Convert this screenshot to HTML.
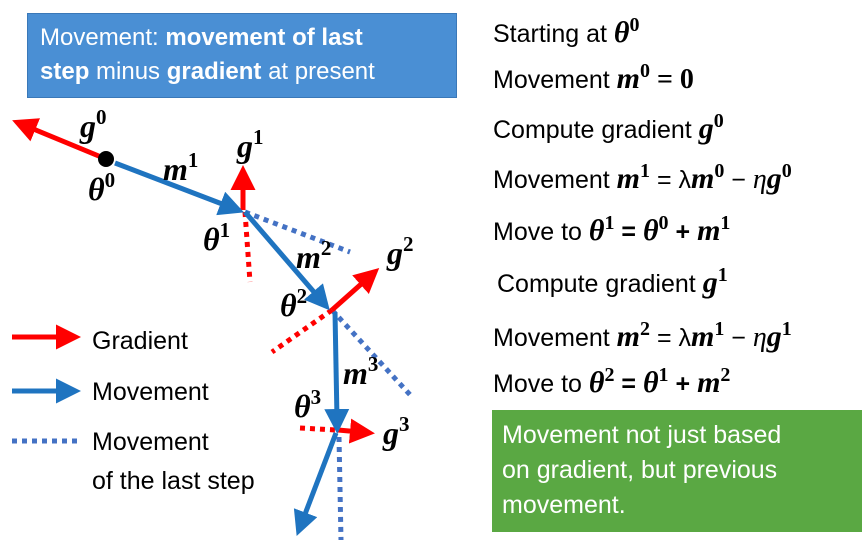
<!DOCTYPE html>
<html><head><meta charset="utf-8"><style>
body{margin:0;width:868px;height:544px;background:#fff;overflow:hidden;position:relative;font-family:"Liberation Sans",sans-serif}
.box{position:absolute;color:#fff;font-size:25px;line-height:34px;white-space:nowrap}
.r{position:absolute;left:493px;font-size:25px;color:#000;white-space:nowrap}
.m{font-family:"Liberation Serif",serif;font-weight:bold;font-style:italic;font-size:30px}
sup{font-size:20px;font-style:normal;font-weight:bold;font-family:"Liberation Serif",serif}
</style></head><body>
<div class="box" style="left:27px;top:13px;height:85px;width:430px;background:#4a8fd4;padding:7px 0 0 12px;box-sizing:border-box;border:1px solid #3a78b8;font-size:24px">Movement: <b>movement of last</b><br><b>step</b> minus <b>gradient</b> at present</div>
<div class="box" style="left:492px;top:410px;width:370px;height:122px;background:#5aa843;padding:8px 10px;box-sizing:border-box;line-height:35px">Movement not just based<br>on gradient, but previous<br>movement.</div>
<div class="r" style="top:14px">Starting at <span class="m">θ<sup>0</sup></span></div>
<div class="r" style="top:60px">Movement <span class="m">m<sup>0</sup></span> <b style="font-family:'Liberation Serif';font-size:28px">= 0</b></div>
<div class="r" style="top:110px">Compute gradient <span class="m">g<sup>0</sup></span></div>
<div class="r" style="top:160px">Movement <span class="m">m<sup>1</sup></span> = λ<span class="m">m<sup>0</sup></span> − <i style="font-family:'Liberation Serif';font-size:28px">η</i><span class="m">g<sup>0</sup></span></div>
<div class="r" style="top:212px">Move to <span class="m">θ<sup>1</sup></span> <b>=</b> <span class="m">θ<sup>0</sup></span> <b>+</b> <span class="m">m<sup>1</sup></span></div>
<div class="r" style="top:264px;left:497px">Compute gradient <span class="m">g<sup>1</sup></span></div>
<div class="r" style="top:318px">Movement <span class="m">m<sup>2</sup></span> = λ<span class="m">m<sup>1</sup></span> − <i style="font-family:'Liberation Serif';font-size:28px">η</i><span class="m">g<sup>1</sup></span></div>
<div class="r" style="top:364px">Move to <span class="m">θ<sup>2</sup></span> <b>=</b> <span class="m">θ<sup>1</sup></span> <b>+</b> <span class="m">m<sup>2</sup></span></div>
<svg width="868" height="544" style="position:absolute;left:0;top:0">
<defs>
<marker id="ar" markerWidth="5" markerHeight="5" refX="2" refY="2.5" orient="auto" markerUnits="strokeWidth"><path d="M0,0L5,2.5L0,5z" fill="#f00"/></marker>
<marker id="ab" markerWidth="5" markerHeight="5" refX="2" refY="2.5" orient="auto" markerUnits="strokeWidth"><path d="M0,0L5,2.5L0,5z" fill="#1f74c0"/></marker>
</defs>
<g stroke-width="5" fill="none">
<g stroke="#4472c4" stroke-dasharray="5,5">
<line x1="245" y1="212" x2="350" y2="252"/><line x1="332" y1="310" x2="413" y2="398"/><line x1="339" y1="437" x2="341" y2="540"/><line x1="12" y1="441" x2="80" y2="441"/>
</g>
<g stroke="#f00" stroke-dasharray="5,5">
<line x1="245" y1="212" x2="250" y2="282"/><line x1="332" y1="310" x2="272" y2="352"/><line x1="300" y1="428" x2="336" y2="430"/>
</g>
<g stroke="#f00" marker-end="url(#ar)">
<line x1="106" y1="159" x2="26" y2="126"/><line x1="243" y1="210" x2="243" y2="180"/><line x1="332" y1="310" x2="368" y2="278"/><line x1="338" y1="430" x2="360" y2="432"/><line x1="12" y1="337" x2="66" y2="337"/>
</g>
<g stroke="#1f74c0" marker-end="url(#ab)">
<line x1="115" y1="163" x2="230" y2="207"/><line x1="245" y1="212" x2="320" y2="299"/><line x1="335" y1="312" x2="337" y2="419"/><line x1="336" y1="433" x2="302" y2="522"/><line x1="12" y1="391" x2="66" y2="391"/>
</g>
</g>
<circle cx="106" cy="159" r="8" fill="#000"/>
<g font-family="Liberation Serif" font-weight="bold" font-style="italic" font-size="32">
<text x="80" y="137">g<tspan font-size="21" dy="-13" font-style="normal">0</tspan></text>
<text x="88" y="200">θ<tspan font-size="21" dy="-13" font-style="normal">0</tspan></text>
<text x="163" y="180">m<tspan font-size="21" dy="-13" font-style="normal">1</tspan></text>
<text x="237" y="157">g<tspan font-size="21" dy="-13" font-style="normal">1</tspan></text>
<text x="203" y="250">θ<tspan font-size="21" dy="-13" font-style="normal">1</tspan></text>
<text x="296" y="268">m<tspan font-size="21" dy="-13" font-style="normal">2</tspan></text>
<text x="387" y="264">g<tspan font-size="21" dy="-13" font-style="normal">2</tspan></text>
<text x="280" y="316">θ<tspan font-size="21" dy="-13" font-style="normal">2</tspan></text>
<text x="343" y="384">m<tspan font-size="21" dy="-13" font-style="normal">3</tspan></text>
<text x="294" y="417">θ<tspan font-size="21" dy="-13" font-style="normal">3</tspan></text>
<text x="383" y="444">g<tspan font-size="21" dy="-13" font-style="normal">3</tspan></text>
</g>
<g font-family="Liberation Sans" font-size="25" fill="#000">
<text x="92" y="349">Gradient</text>
<text x="92" y="400">Movement</text>
<text x="92" y="450">Movement</text>
<text x="92" y="489">of the last step</text>
</g>
</svg>
</body></html>
